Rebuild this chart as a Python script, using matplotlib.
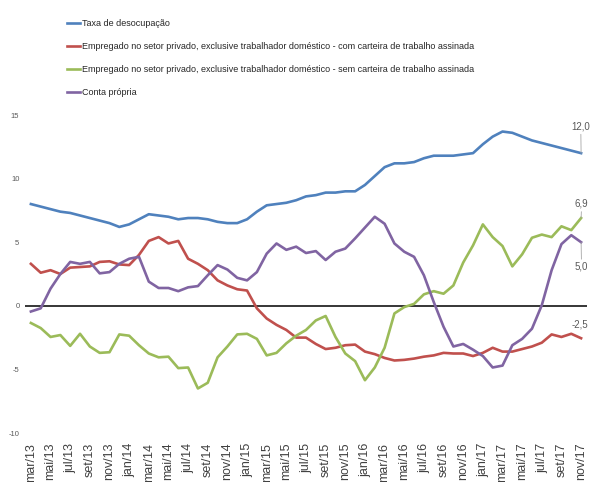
import matplotlib
matplotlib.use("Agg")
import matplotlib.pyplot as plt

# Dados (variação % e taxa), mar/13 a nov/17
meses = ["jan", "fev", "mar", "abr", "mai", "jun", "jul", "ago", "set", "out", "nov", "dez"]
rotulos = []
for ano in range(13, 18):
    for m in meses:
        rotulos.append(f"{m}/{ano}")
rotulos = rotulos[2:2 + 57]

taxa_desocupacao = [8.0, 7.8, 7.6, 7.4, 7.3, 7.1, 6.9, 6.7, 6.5, 6.2,
                    6.4, 6.8, 7.2, 7.1, 7.0, 6.8, 6.9, 6.9, 6.8, 6.6, 6.5, 6.5,
                    6.8, 7.4, 7.9, 8.0, 8.1, 8.3, 8.6, 8.7, 8.9, 8.9, 9.0, 9.0,
                    9.5, 10.2, 10.9, 11.2, 11.2, 11.3, 11.6, 11.8, 11.8, 11.8, 11.9, 12.0,
                    12.7, 13.3, 13.7, 13.6, 13.3, 13.0, 12.8, 12.6, 12.4, 12.2, 12.0]

com_carteira = [3.3, 2.6, 2.8, 2.5, 3.0, 3.05, 3.1, 3.45, 3.5, 3.25,
                3.2, 4.0, 5.1, 5.4, 4.9, 5.1, 3.7, 3.3, 2.8, 2.0, 1.6, 1.3,
                1.2, -0.2, -1.0, -1.5, -1.9, -2.5, -2.5, -3.0, -3.4, -3.3, -3.1, -3.05,
                -3.6, -3.8, -4.1, -4.3, -4.25, -4.15, -4.0, -3.9, -3.7, -3.75, -3.75, -3.95,
                -3.7, -3.3, -3.6, -3.6, -3.4, -3.2, -2.9, -2.25, -2.45, -2.2, -2.55]

sem_carteira = [-1.35, -1.75, -2.45, -2.3, -3.15, -2.2, -3.2, -3.7, -3.65, -2.25,
                -2.35, -3.1, -3.75, -4.05, -4.0, -4.9, -4.85, -6.5, -6.05, -4.05, -3.2, -2.25,
                -2.2, -2.6, -3.9, -3.7, -2.95, -2.35, -1.9, -1.15, -0.8, -2.45, -3.75, -4.35,
                -5.85, -4.85, -3.3, -0.6, -0.1, 0.15, 0.9, 1.15, 0.95, 1.6, 3.4, 4.75,
                6.4, 5.4, 4.7, 3.1, 4.05, 5.35, 5.6, 5.4, 6.25, 5.95, 6.9]

conta_propria = [-0.45, -0.2, 1.35, 2.5, 3.45, 3.3, 3.45, 2.55, 2.65, 3.3,
                 3.7, 3.85, 1.9, 1.4, 1.4, 1.15, 1.45, 1.55, 2.4, 3.2, 2.85, 2.2,
                 2.0, 2.65, 4.1, 4.9, 4.4, 4.65, 4.15, 4.3, 3.6, 4.25, 4.5, 5.3,
                 6.15, 7.0, 6.45, 4.9, 4.25, 3.85, 2.4, 0.3, -1.65, -3.2, -3.0, -3.45,
                 -3.95, -4.85, -4.7, -3.1, -2.6, -1.8, 0.05, 2.8, 4.85, 5.55, 5.0]

nomes = ["Taxa de desocupação",
         "Empregado no setor privado, exclusive trabalhador doméstico - com carteira de trabalho assinada",
         "Empregado no setor privado, exclusive trabalhador doméstico - sem carteira de trabalho assinada",
         "Conta própria"]
cores = ["#4F81BD", "#C0504D", "#9BBB59", "#8064A2"]

plt.rcParams["font.family"] = ["Liberation Sans", "DejaVu Sans"]

fig = plt.figure(figsize=(5.9, 4.82), dpi=100)
ax = fig.add_axes([25 / 590, 1 - 433 / 482, 562 / 590, 318 / 482])

x = list(range(len(rotulos)))
series = [taxa_desocupacao, com_carteira, sem_carteira, conta_propria]
for s, nome, cor in zip(series, nomes, cores):
    ax.plot(x, s, color=cor, lw=1.9, label=nome, solid_joinstyle="round")

ax.axhline(0, color="black", lw=1.1, zorder=0)
ax.set_xlim(-0.6, 56.6)
ax.set_ylim(-10, 15)
ax.set_yticks([-10, -5, 0, 5, 10, 15])
ax.set_yticklabels(["-10", "-5", "0", "5", "10", "15"], fontsize=5.5, color="#595959")
ax.set_xticks(x[::2])
ax.set_xticklabels(rotulos[::2], rotation=90, fontsize=9, color="#404040")
ax.tick_params(axis="both", length=0)
ax.tick_params(axis="x", pad=7)
ax.tick_params(axis="y", pad=4)
for sp in ax.spines.values():
    sp.set_visible(False)

# rótulos dos últimos valores
ult = x[-1]
estilo = dict(arrowstyle="-", color="#A6A6A6", lw=0.6, shrinkA=0, shrinkB=0)
ax.annotate("12,0", xy=(ult, taxa_desocupacao[-1]), xytext=(-7, 17), textcoords="offset points",
            fontsize=7, color="#595959", arrowprops=estilo, annotation_clip=False)
ax.annotate("6,9", xy=(ult, sem_carteira[-1]), xytext=(-4.5, 8), textcoords="offset points",
            fontsize=7, color="#595959", arrowprops=estilo, annotation_clip=False)
ax.annotate("5,0", xy=(ult, conta_propria[-1]), xytext=(-4.5, -20), textcoords="offset points",
            fontsize=7, color="#595959", arrowprops=estilo, annotation_clip=False)
ax.annotate("-2,5", xy=(ult, com_carteira[-1]), xytext=(-7, 8), textcoords="offset points",
            fontsize=7, color="#595959", annotation_clip=False)

fig.legend(loc="upper left", bbox_to_anchor=(67 / 590, 1 - 19 / 482), frameon=False,
           fontsize=6.5, handlelength=1.45, handletextpad=0.2, labelspacing=1.55,
           borderpad=0, borderaxespad=0, labelcolor="#262626")

fig.savefig("out.png", dpi=100)
